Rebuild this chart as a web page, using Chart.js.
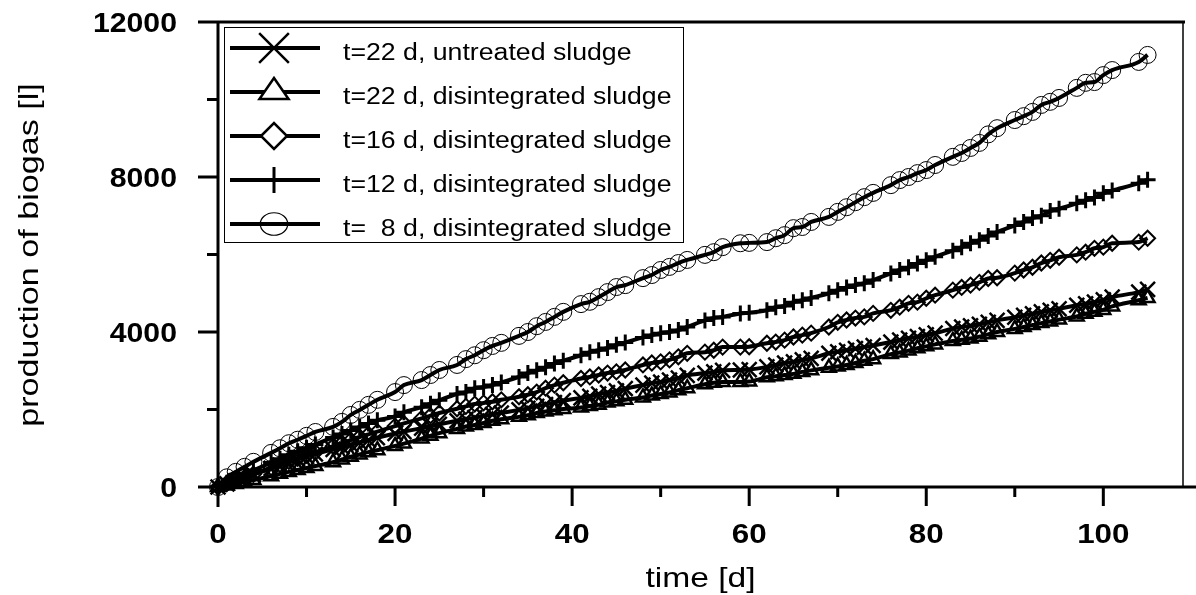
<!DOCTYPE html>
<html><head><meta charset="utf-8">
<script src="https://cdn.jsdelivr.net/npm/chart.js@4.4.1/dist/chart.umd.min.js"></script>
<style>html,body{margin:0;padding:0;background:#fff;overflow:hidden}</style>
</head><body>
<canvas id="c" width="1196" height="595" style="display:block;width:1196px;height:595px"></canvas>
<script>
const days = [0,1,2,3,4,6,7,8,9,10,11,13,14,15,16,17,18,20,21,23,24,25,27,28,29,30,31,32,34,35,36,37,38,39,41,42,43,44,45,46,48,49,50,51,52,53,55,56,57,59,60,62,63,64,65,66,67,69,70,71,72,73,74,76,77,78,79,80,81,83,84,85,86,87,88,90,91,92,93,94,95,97,98,99,100,101,104,105];

const untreated22 = [0,80,160,240,320,480,560,640,710,780,850,970,1030,1090,1150,1210,1270,1380,1430,1520,1570,1620,1710,1750,1790,1830,1870,1910,1990,2030,2080,2130,2180,2230,2300,2340,2400,2440,2480,2540,2630,2680,2710,2760,2810,2880,2940,2970,3010,3020,3030,3100,3150,3200,3230,3280,3320,3450,3490,3530,3570,3610,3650,3740,3790,3840,3880,3930,3970,4090,4130,4160,4200,4250,4300,4380,4430,4470,4520,4560,4600,4690,4730,4770,4830,4900,5030,5100];

const disintegrated22 = [0,40,80,130,180,280,340,390,440,490,540,640,710,780,840,900,950,1060,1120,1250,1320,1390,1500,1560,1600,1650,1710,1750,1810,1850,1910,1950,1980,2010,2050,2090,2120,2180,2210,2250,2310,2360,2400,2440,2500,2550,2650,2690,2710,2710,2720,2830,2860,2890,2920,2970,3010,3080,3110,3150,3200,3260,3300,3430,3470,3520,3580,3630,3680,3770,3800,3830,3880,3940,4000,4080,4130,4180,4230,4270,4320,4400,4470,4520,4570,4660,4820,4880];

const disintegrated16 = [0,90,170,250,330,500,580,660,740,820,900,1050,1130,1210,1290,1360,1430,1570,1640,1770,1840,1910,2020,2080,2140,2170,2200,2250,2330,2380,2450,2550,2630,2690,2800,2840,2890,2940,2970,3020,3150,3200,3230,3280,3360,3450,3480,3530,3610,3610,3620,3710,3740,3790,3870,3920,3970,4130,4250,4310,4360,4390,4480,4560,4640,4740,4770,4870,4950,5080,5150,5210,5280,5380,5400,5520,5600,5670,5780,5850,5930,5990,6060,6160,6190,6290,6320,6420];

const disintegrated12 = [0,110,220,330,430,630,730,830,920,1010,1100,1280,1370,1460,1550,1640,1720,1820,1930,2060,2150,2240,2400,2450,2550,2580,2630,2700,2840,2940,3010,3090,3190,3260,3400,3480,3530,3590,3670,3730,3860,3920,3970,4000,4050,4130,4300,4360,4390,4480,4500,4560,4640,4670,4770,4820,4880,5000,5080,5150,5210,5260,5340,5510,5600,5670,5770,5850,5940,6100,6190,6290,6370,6480,6580,6750,6840,6940,7000,7120,7180,7320,7400,7470,7580,7650,7840,7930];

const disintegrated8 = [0,250,390,520,650,880,1000,1130,1220,1320,1420,1550,1680,1860,1990,2120,2250,2450,2630,2760,2890,3020,3150,3300,3400,3530,3640,3720,3900,4000,4150,4260,4390,4520,4720,4780,4900,5030,5160,5210,5390,5470,5600,5680,5780,5860,5990,6060,6190,6290,6300,6320,6420,6500,6680,6710,6840,6970,7100,7220,7350,7480,7590,7790,7920,8000,8100,8180,8310,8520,8620,8750,8880,9100,9260,9470,9570,9680,9860,9940,10040,10300,10430,10450,10630,10760,10970,11150];

const seriesLabels = ['t=22 d, untreated sludge','t=22 d, disintegrated sludge','t=16 d, disintegrated sludge','t=12 d, disintegrated sludge','t=  8 d, disintegrated sludge'];
const xTicks = [0,20,40,60,80,100];
const xMinorTicks = [10,30,50,70,90];
const yTicks = [0,4000,8000,12000];
const yMinorTicks = [2000,6000,10000];
const xTitle = 'time [d]';
const yTitle = 'production of biogas [l]';

const allValues = [untreated22, disintegrated22, disintegrated16, disintegrated12, disintegrated8];
const styles = [
  {pointStyle:'crossRot', pointRadius:10.5, pointBorderWidth:2.5, legendRadius:21, legendBW:2.5},
  {pointStyle:'triangle', pointRadius:8, pointBorderWidth:2.5, legendRadius:14, legendBW:2.5},
  {pointStyle:'rectRot', pointRadius:7.5, pointBorderWidth:2, legendRadius:13, legendBW:2.5},
  {pointStyle:'cross', pointRadius:8, pointBorderWidth:3, legendRadius:13, legendBW:3},
  {pointStyle:'circle', pointRadius:8.5, pointBorderWidth:1, legendRadius:12.5, legendBW:1.2}
];

const datasets = allValues.map((vals, i) => ({
  label: seriesLabels[i],
  data: days.map((d, j) => ({x: d, y: vals[j]})),
  borderColor: '#000',
  borderWidth: 4,
  backgroundColor: 'rgba(0,0,0,0)',
  pointBackgroundColor: 'rgba(0,0,0,0)',
  pointBorderColor: '#000',
  pointStyle: styles[i].pointStyle,
  pointRadius: styles[i].pointRadius,
  pointBorderWidth: styles[i].pointBorderWidth,
  tension: 0.4,
  cubicInterpolationMode: 'monotone',
  clip: false
}));

const FONT = "'Liberation Sans', Arial, sans-serif";

function sText(ctx, txt, x, y, sx, align) {
  ctx.save();
  ctx.translate(x, y);
  ctx.scale(sx, 1);
  ctx.textAlign = align;
  ctx.fillText(txt, 0, 0);
  ctx.restore();
}

function legendMarker(ctx, style, r, bw, x, y) {
  ctx.save();
  ctx.lineWidth = bw;
  ctx.strokeStyle = '#000';
  ctx.beginPath();
  if (style === 'crossRot') {
    const o = r * Math.SQRT1_2;
    ctx.moveTo(x - o, y - o); ctx.lineTo(x + o, y + o);
    ctx.moveTo(x - o, y + o); ctx.lineTo(x + o, y - o);
    ctx.stroke();
  } else if (style === 'triangle') {
    ctx.moveTo(x, y - r);
    ctx.lineTo(x + r * 0.866 * 1.2, y + r * 0.5);
    ctx.lineTo(x - r * 0.866 * 1.2, y + r * 0.5);
    ctx.closePath();
    ctx.fillStyle = '#fff'; ctx.fill(); ctx.stroke();
  } else if (style === 'rectRot') {
    ctx.moveTo(x - r, y); ctx.lineTo(x, y - r); ctx.lineTo(x + r, y); ctx.lineTo(x, y + r);
    ctx.closePath();
    ctx.fillStyle = '#fff'; ctx.fill(); ctx.stroke();
  } else if (style === 'cross') {
    ctx.moveTo(x, y - r); ctx.lineTo(x, y + r);
    ctx.stroke();
  } else if (style === 'circle') {
    ctx.ellipse(x, y, r * 1.1, r * 0.9, 0, 0, Math.PI * 2);
    ctx.stroke();
  }
  ctx.restore();
}

const framePlugin = {
  id: 'frame',
  afterDatasetsDraw(chart) {
    const ctx = chart.ctx;
    const xs = chart.scales.x, ys = chart.scales.y;
    const a = chart.chartArea;
    const x0 = xs.getPixelForValue(0), y0 = ys.getPixelForValue(0);
    const yTop = ys.getPixelForValue(12000);
    ctx.save();
    ctx.strokeStyle = '#000';
    ctx.lineCap = 'butt';
    ctx.lineWidth = 1.5;
    ctx.beginPath(); ctx.moveTo(a.right, yTop); ctx.lineTo(a.right, y0); ctx.stroke();
    ctx.lineWidth = 3;
    ctx.beginPath();
    ctx.moveTo(x0, yTop - 1.5); ctx.lineTo(x0, y0 + 20);
    ctx.moveTo(x0 - 20, y0); ctx.lineTo(1196, y0);
    ctx.moveTo(x0 - 20, yTop); ctx.lineTo(a.right + 2, yTop);
    yTicks.forEach(v => { const p = ys.getPixelForValue(v); ctx.moveTo(x0 - 20, p); ctx.lineTo(x0, p); });
    yMinorTicks.forEach(v => { const p = ys.getPixelForValue(v); ctx.moveTo(x0 - 11, p); ctx.lineTo(x0, p); });
    xTicks.forEach(v => { const p = xs.getPixelForValue(v); ctx.moveTo(p, y0); ctx.lineTo(p, y0 + 19); });
    xMinorTicks.forEach(v => { const p = xs.getPixelForValue(v); ctx.moveTo(p, y0); ctx.lineTo(p, y0 + 10); });
    ctx.stroke();

    ctx.fillStyle = '#000';
    ctx.font = 'bold 28px ' + FONT;
    ctx.textBaseline = 'alphabetic';
    yTicks.forEach(v => { sText(ctx, String(v), 177, ys.getPixelForValue(v) + 10, 1.08, 'right'); });
    xTicks.forEach(v => { sText(ctx, String(v), xs.getPixelForValue(v), 543, 1.12, 'center'); });

    ctx.font = '28px ' + FONT;
    sText(ctx, xTitle, (a.left + a.right) / 2, 587, 1.2, 'center');
    ctx.save();
    ctx.translate(38, 255);
    ctx.rotate(-Math.PI / 2);
    ctx.scale(1.22, 1);
    ctx.textAlign = 'center';
    ctx.fillText(yTitle, 0, 0);
    ctx.restore();

    ctx.fillStyle = '#fff';
    ctx.fillRect(224, 27, 459, 215);
    ctx.lineWidth = 1;
    ctx.strokeStyle = '#000';
    ctx.strokeRect(224.5, 27.5, 459, 215);
    ctx.font = '23px ' + FONT;
    chart.data.datasets.forEach((ds, i) => {
      const y = 48 + i * 44;
      ctx.lineWidth = 4;
      ctx.beginPath(); ctx.moveTo(230, y); ctx.lineTo(320, y); ctx.stroke();
      legendMarker(ctx, styles[i].pointStyle, styles[i].legendRadius, styles[i].legendBW, 274, y);
      ctx.fillStyle = '#000';
      ctx.textBaseline = 'alphabetic';
      sText(ctx, ds.label, 343, y + 12, 1.16, 'left');
    });
    ctx.restore();
  }
};

new Chart(document.getElementById('c'), {
  type: 'line',
  data: { datasets },
  options: {
    responsive: false,
    animation: false,
    devicePixelRatio: 1,
    layout: { padding: { left: 218, right: 6, top: 22, bottom: 108 } },
    plugins: { legend: { display: false }, tooltip: { enabled: false } },
    scales: {
      x: { type: 'linear', display: false, min: 0, max: 109 },
      y: { type: 'linear', display: false, min: 0, max: 12000 }
    }
  },
  plugins: [framePlugin]
});
</script>
</body></html>
